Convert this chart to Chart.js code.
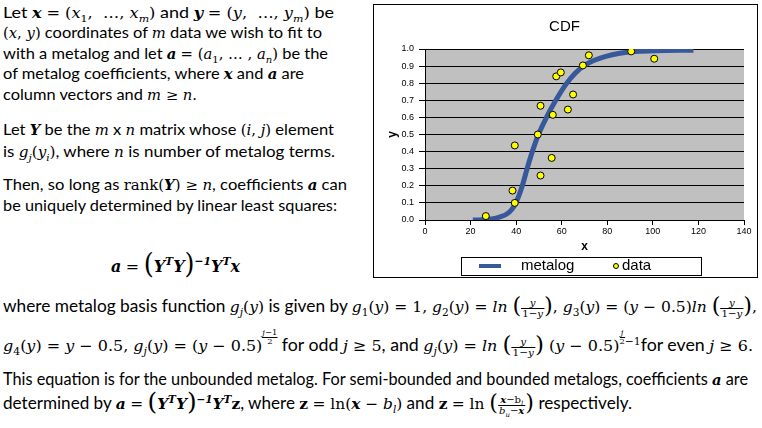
<!DOCTYPE html>
<html lang="en">
<head>
<meta charset="UTF-8">
<title>Metalog least squares</title>
<style>
  body { margin: 0; width: 762px; height: 428px; background: #fff; position: relative; overflow: hidden;
         font-family: Lato, "Open Sans", sans-serif; color: #000; }
  .ln { position: absolute; left: 3px; height: 24px; line-height: 24px; white-space: nowrap;
        font-size: 16px; transform-origin: 0 50%; }
  .low { font-size: 17px; }
  .m, .b, .r, .rb { font-family: "DejaVu Serif", serif; font-size: 0.9em; }
  .m { font-style: italic; }
  .b { font-style: italic; font-weight: bold; }
  .rb { font-weight: bold; }
  .r i { font-style: italic; }
  .r b { font-weight: bold; font-style: italic; }
  sub, sup { font-size: 0.68em; line-height: 0; }
  .big { font-family: "DejaVu Serif", serif; font-style: normal; font-size: 1.45em; line-height: 0; vertical-align: -1px; }
  .frac { display: inline-block; vertical-align: middle; text-align: center; font-size: 10px; line-height: 10px; }
  .frac > span { display: block; padding: 0 1px; }
  .frac > span:first-child { border-bottom: 1px solid #000; }
  .sfrac { display: inline-block; text-align: center; font-size: 8px; line-height: 8px; vertical-align: 7px; }
  .sfrac > span { display: block; }
  .sfrac > span:first-child { border-bottom: 1px solid #000; }
  #eq { font-size: 19px; }
  #box { position: absolute; left: 373px; top: 4px; width: 385px; height: 274px; box-sizing: border-box;
         border: 1px solid #000; background: #fff; }
  #wrap { position: absolute; left: 0; top: 0; width: 383px; height: 272px; }
</style>
</head>
<body>

<!-- left column text -->
<div class="ln" data-w="331" style="top:0px">Let <span class="b">x</span> <span class="r">= (<i>x</i><sub>1</sub>, &nbsp;…, <i>x<sub>m</sub></i>)</span> and <span class="b">y</span> <span class="r">= (<i>y</i>, &nbsp;…, <i>y<sub>m</sub></i>)</span> be</div>
<div class="ln" data-w="319" style="top:20px"><span class="r">(<i>x</i>, <i>y</i>)</span> coordinates of <span class="m">m</span> data we wish to fit to</div>
<div class="ln" data-w="325" style="top:41px">with a metalog and let <span class="b">a</span> <span class="r">= (<i>a</i><sub>1</sub>, … , <i>a<sub>n</sub></i>)</span> be the</div>
<div class="ln" data-w="301" style="top:61px">of metalog coefficients, where <span class="b">x</span> and <span class="b">a</span> are</div>
<div class="ln" data-w="194" style="top:82px">column vectors and <span class="r"><i>m</i> ≥ <i>n</i>.</span></div>
<div class="ln" data-w="331" style="top:117px">Let <span class="b">Y</span> be the <span class="m">m</span> x <span class="m">n</span> matrix whose <span class="r">(<i>i</i>, <i>j</i>)</span> element</div>
<div class="ln" data-w="332" style="top:139px">is <span class="r"><i>g<sub>j</sub></i>(<i>y<sub>i</sub></i>)</span>, where <span class="m">n</span> is number of metalog terms.</div>
<div class="ln" data-w="344" style="top:172px">Then, so long as <span class="r">rank(<b>Y</b>) ≥ <i>n</i></span>, coefficients <span class="b">a</span> can</div>
<div class="ln" data-w="334" style="top:193px">be uniquely determined by linear least squares:</div>
<div class="ln" id="eq" data-w="129" style="top:253px;left:111px"><span class="b">a</span> <span class="r">=</span> <span class="big">(</span><span class="b">Y<sup>T</sup>Y</span><span class="big">)</span><span class="b"><sup>−1</sup>Y<sup>T</sup>x</span></div>

<!-- lower text -->
<div class="ln low" data-w="754" style="top:294px">where metalog basis function <span class="r"><i>g<sub>j</sub></i>(<i>y</i>)</span> is given by <span class="r"><i>g</i><sub>1</sub>(<i>y</i>) = 1, <i>g</i><sub>2</sub>(<i>y</i>) = <i>ln</i> <span class="big">(</span><span class="frac"><span><i>y</i></span><span>1−<i>y</i></span></span><span class="big">)</span>, <i>g</i><sub>3</sub>(<i>y</i>) = (<i>y</i> − 0.5)<i>ln</i> <span class="big">(</span><span class="frac"><span><i>y</i></span><span>1−<i>y</i></span></span><span class="big">)</span>,</span></div>
<div class="ln low" data-w="750" style="top:329px"><span class="r"><i>g</i><sub>4</sub>(<i>y</i>) = <i>y</i> − 0.5, <i>g<sub>j</sub></i>(<i>y</i>) = (<i>y</i> − 0.5)<span class="sfrac"><span><i>j</i>−1</span><span>2</span></span></span> for odd <span class="r"><i>j</i> ≥ 5</span>, and <span class="r"><i>g<sub>j</sub></i>(<i>y</i>) = <i>ln</i> <span class="big">(</span><span class="frac"><span><i>y</i></span><span>1−<i>y</i></span></span><span class="big">)</span> (<i>y</i> − 0.5)<span class="sfrac"><span><i>j</i></span><span>2</span></span><sup>−1</sup></span>for even <span class="r"><i>j</i> ≥ 6.</span></div>
<div class="ln low" data-w="745" style="top:367px">This equation is for the unbounded metalog. For semi-bounded and bounded metalogs, coefficients <span class="b">a</span> are</div>
<div class="ln low" data-w="629" style="top:391px">determined by <span class="b">a</span> <span class="r">=</span> <span class="big">(</span><span class="b">Y<sup>T</sup>Y</span><span class="big">)</span><span class="b"><sup>−1</sup>Y<sup>T</sup></span><span class="rb">z</span>, where <span class="rb">z</span> <span class="r">= ln(<b>x</b> − <i>b<sub>l</sub></i>)</span> and <span class="rb">z</span> <span class="r">= ln <span class="big">(</span><span class="frac"><span><b>x</b>−b<sub><i>l</i></sub></span><span><i>b<sub>u</sub></i>−<b>x</b></span></span><span class="big">)</span></span> respectively.</div>

<!-- chart -->
<div id="box"><div id="wrap"><canvas id="cdf"></canvas></div></div>

<script src="https://cdn.jsdelivr.net/npm/chart.js"></script>
<script>
  // observed points
  const dataX = [26.7, 38.4, 39.4, 39.4, 49.5, 50.7, 50.7, 55.6, 56.1, 57.6, 59.6, 62.7, 65.0, 69.3, 71.9, 90.5, 100.6];
  const dataY = [0.023, 0.172, 0.100, 0.436, 0.500, 0.668, 0.260, 0.363, 0.615, 0.840, 0.863, 0.646, 0.734, 0.904, 0.963, 0.986, 0.943];

  // fitted metalog curve
  const curveX = [21, 25, 30, 33, 35.9, 38, 39.9, 42.7, 44.8, 47.1, 49.8, 53.3, 57.4, 62.2, 69.5, 77.6, 87.8, 101, 117.8];
  const curveY = [0.0, 0.002, 0.008, 0.018, 0.035, 0.06, 0.1, 0.2, 0.3, 0.4, 0.5, 0.6, 0.7, 0.8, 0.9, 0.95, 0.98, 0.99, 0.993];

  const xTicks = [0, 20, 40, 60, 80, 100, 120, 140];
  const yTicks = [0, 0.1, 0.2, 0.3, 0.4, 0.5, 0.6, 0.7, 0.8, 0.9, 1.0];

  const lineBlue = '#37589b';
  const axisFont = { family: '"Liberation Sans", Arial, sans-serif', size: 9 };

  // scale every text line to the width it has in the picture
  function fitLines() {
    document.querySelectorAll('.ln').forEach(el => {
      el.style.transform = 'none';
      const w = el.getBoundingClientRect().width;
      el.style.transform = 'scaleX(' + (+el.dataset.w / w) + ')';
    });
  }
  fitLines();
  if (document.fonts) document.fonts.ready.then(fitLines);

  // gray plot background
  const plotBg = {
    id: 'plotBg',
    beforeDraw(chart) {
      const { ctx, chartArea: a } = chart;
      ctx.save();
      ctx.fillStyle = '#c0c0c0';
      ctx.fillRect(a.left, a.top, a.right - a.left, a.bottom - a.top);
      ctx.restore();
    }
  };

  // boxed legend under the x axis title
  const boxLegend = {
    id: 'boxLegend',
    afterDraw(chart) {
      const { ctx } = chart;
      const left = 87, top = chart.height - 20, w = 240, h = 18;
      const cy = top + h / 2;
      ctx.save();
      ctx.strokeStyle = '#000';
      ctx.lineWidth = 1;
      ctx.strokeRect(left + 0.5, top + 0.5, w, h);
      ctx.strokeStyle = lineBlue;
      ctx.lineWidth = 4;
      ctx.beginPath();
      ctx.moveTo(left + 18, cy);
      ctx.lineTo(left + 40, cy);
      ctx.stroke();
      ctx.beginPath();
      ctx.arc(left + 155, cy, 2.5, 0, Math.PI * 2);
      ctx.fillStyle = '#ffff00';
      ctx.fill();
      ctx.lineWidth = 1;
      ctx.strokeStyle = '#000';
      ctx.stroke();
      ctx.fillStyle = '#000';
      ctx.font = '15px "Liberation Sans", Arial, sans-serif';
      ctx.textBaseline = 'middle';
      chart.data.datasets.forEach((ds, i) => {
        ctx.fillText(ds.label, left + (i === 0 ? 60 : 161), cy);
      });
      ctx.restore();
    }
  };

  new Chart(document.getElementById('cdf'), {
    type: 'scatter',
    data: {
      datasets: [
        {
          label: 'metalog',
          data: curveX.map((x, i) => ({ x: x, y: curveY[i] })),
          showLine: true,
          borderColor: lineBlue,
          borderWidth: 5,
          pointRadius: 0,
          pointHoverRadius: 0,
          cubicInterpolationMode: 'monotone',
          fill: false,
          order: 2
        },
        {
          label: 'data',
          data: dataX.map((x, i) => ({ x: x, y: dataY[i] })),
          backgroundColor: '#ffff00',
          borderColor: '#000',
          borderWidth: 1,
          pointRadius: 3.5,
          order: 1
        }
      ]
    },
    options: {
      responsive: true,
      maintainAspectRatio: false,
      animation: false,
      layout: { padding: { top: 0, right: 13, bottom: 23, left: 11 } },
      plugins: {
        title: {
          display: true,
          text: 'CDF',
          color: '#000',
          font: { family: '"Liberation Sans", Arial, sans-serif', size: 15, weight: 'normal' },
          padding: { top: 12.7, bottom: 13.3 }
        },
        legend: { display: false },
        tooltip: { enabled: false }
      },
      scales: {
        x: {
          type: 'linear',
          min: 0,
          max: 140,
          afterBuildTicks: s => { s.ticks = xTicks.map(v => ({ value: v })); },
          afterFit: s => { s.height = 34; },
          ticks: { color: '#000', font: axisFont, padding: 1, maxRotation: 0 },
          grid: { drawOnChartArea: false, drawTicks: true, tickLength: 5, color: '#000' },
          border: { color: '#000', width: 1 },
          title: { display: true, text: 'x', color: '#000', padding: 0,
                   font: { family: '"Liberation Sans", Arial, sans-serif', size: 12, weight: 'bold' } }
        },
        y: {
          type: 'linear',
          min: 0,
          max: 1,
          afterBuildTicks: s => { s.ticks = yTicks.map(v => ({ value: v })); },
          afterFit: s => { s.width = 40; },
          ticks: { color: '#000', font: axisFont, padding: 5, callback: v => v.toFixed(1) },
          grid: { color: '#000', lineWidth: 1, tickLength: 6 },
          border: { color: '#000', width: 1 },
          title: { display: true, text: 'y', color: '#000', padding: 0,
                   font: { family: '"Liberation Sans", Arial, sans-serif', size: 12, weight: 'bold' } }
        }
      }
    },
    plugins: [plotBg, boxLegend]
  });
</script>
</body>
</html>
